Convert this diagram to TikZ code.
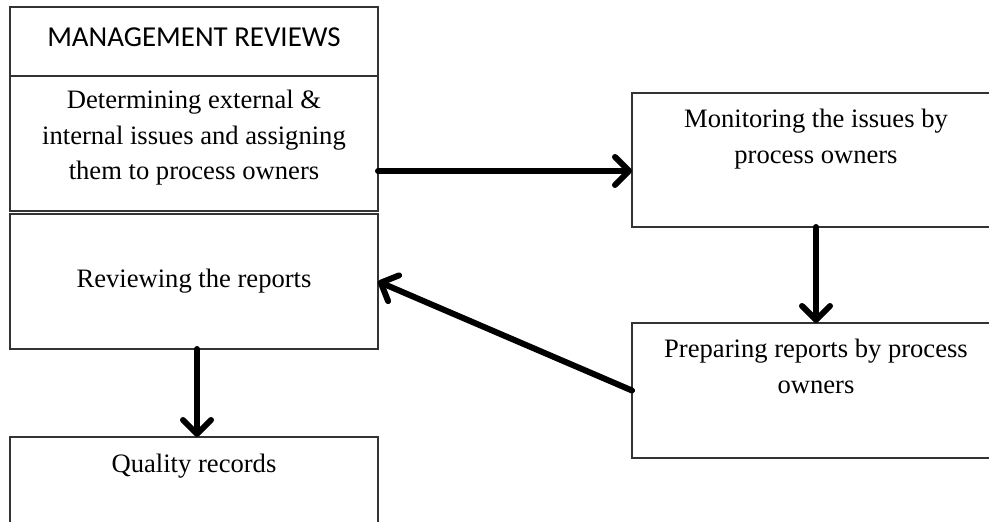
\documentclass[tikz,border=0pt]{standalone}
\usepackage{fontspec}
\setmainfont{Liberation Serif}
\newfontfamily\headfont{Carlito}
\usetikzlibrary{positioning,arrows.meta}
\tikzset{
  box/.style={draw=black!80, line width=1.2pt, minimum width=368pt, minimum height=135pt, inner sep=0pt, outer sep=0pt},
  txt/.style={font=\fontsize{26.6}{35.5}\selectfont, align=center, inner sep=0pt},
  flow/.style={line width=6pt, line cap=round, -{Straight Barb[round,length=14pt,width=28pt]}}
}
\begin{document}
\begin{tikzpicture}[x=1pt, y=1pt]
	\useasboundingbox (0,0) rectangle (989,522);
	\clip (0,0) rectangle (989,522);
	% left column
	\node[box, minimum height=69pt] (mgmt) at (194,480.5) {};
	\node[box, below=0pt of mgmt] (det) {};
	\node[box, below=3pt of det] (rev) {};
	\node[box, below=88pt of rev] (qual) {};
	% right column
	\node[box, minimum height=134pt] (mon) at (816,362) {};
	\node[box, below=96pt of mon] (prep) {};
	% texts
	\node[anchor=base, inner sep=0pt, font=\headfont\fontsize{28.9}{34}\selectfont] (mgmtt) at ([yshift=-40pt]mgmt.north) {MANAGEMENT REVIEWS};
	\node[txt, below=14pt of det.north] (dett) {Determining external \&\\internal issues and assigning\\them to process owners};
	\node[txt] (revt) at (rev) {Reviewing the reports};
	\node[txt, below=17pt of qual.north] (qualt) {Quality records};
	\node[txt, below=16pt of mon.north] (mont) {Monitoring the issues by\\process owners};
	\node[txt, below=16pt of prep.north] (prept) {Preparing reports by process\\owners};
	% connectors
	\coordinate (h) at ([yshift=-27.5pt]det.east);
	\draw[flow] (h) -- (h -| mon.west);
	\draw[flow] (mon.south) -- (prep.north);
	\draw[flow] (prep.west) -- (rev.east);
	\draw[flow] ([xshift=3pt]rev.south) -- ([xshift=3pt]qual.north);
\end{tikzpicture}
\end{document}
